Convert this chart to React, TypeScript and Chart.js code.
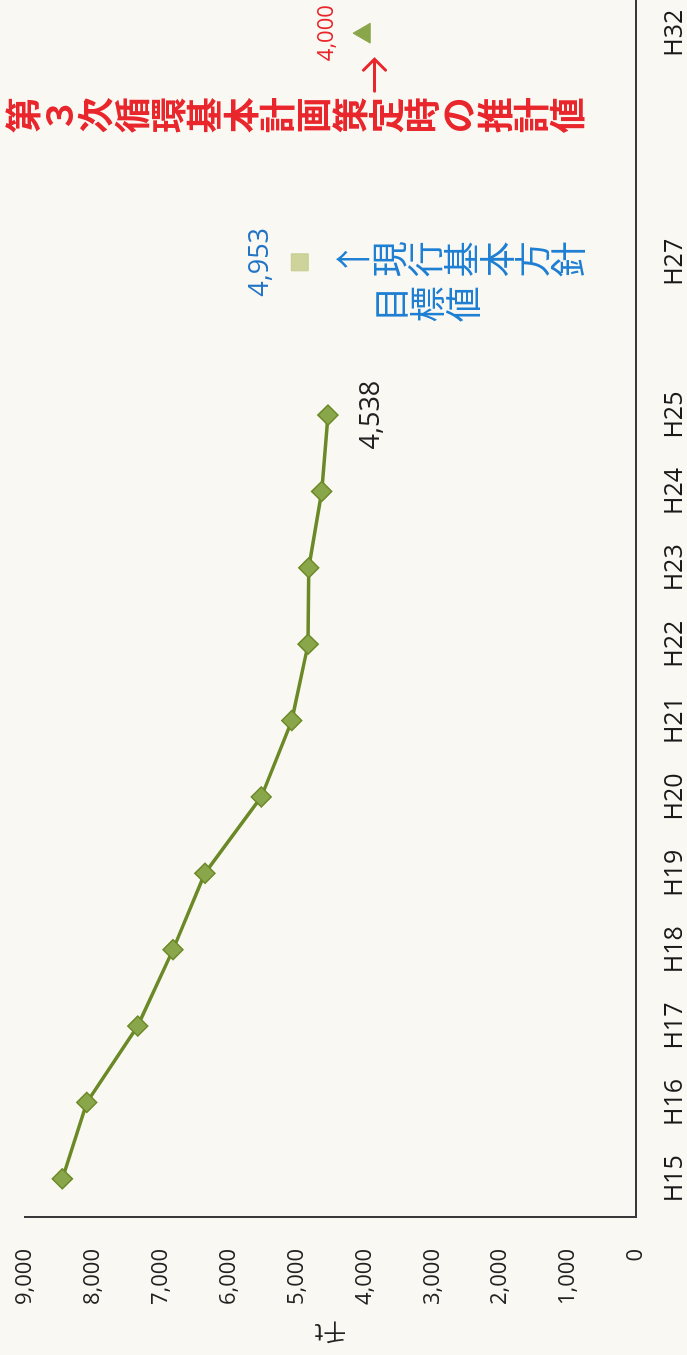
import React, { useEffect, useRef } from 'react';
import { Chart, registerables } from 'chart.js';

Chart.register(...registerables);

// ---- data ----
const categories = ['H15', 'H16', 'H17', 'H18', 'H19', 'H20', 'H21', 'H22', 'H23', 'H24', 'H25', '', 'H27', '', '', 'H32'];
const actualValues = [8450, 8090, 7340, 6820, 6350, 5520, 5070, 4830, 4820, 4630, 4538, null, null, null, null, null];
const targetValues = [null, null, null, null, null, null, null, null, null, null, null, null, 4953, null, null, null];
const estimateValues = [null, null, null, null, null, null, null, null, null, null, null, null, null, null, null, 4000];
const yMin = 0;
const yMax = 9000;
const yStep = 1000;
const unitTitle = '千t';
const redNote = '第３次循環基本計画策定時の推計値';
const blueNoteLine1 = '↑現行基本方針';
const blueNoteLine2 = '目標値';

const W = 1380;
const H = 687;

const fmt = (n: number) => n.toLocaleString('en-US');

const annotationPlugin = {
  id: 'annotations',
  afterDatasetsDraw(chart: any) {
    const ctx = chart.ctx;
    const xs = chart.scales.x;
    const ys = chart.scales.y;
    ctx.save();
    ctx.textAlign = 'center';
    ctx.textBaseline = 'middle';

    // data labels
    const lastIdx = actualValues.reduce((a: number, v, i) => (v !== null ? i : a), 0);
    const p0 = chart.getDatasetMeta(0).data[lastIdx];
    ctx.font = '27px "Open Sans"';
    ctx.fillStyle = '#222';
    ctx.fillText(fmt(actualValues[lastIdx] as number), p0.x, p0.y + 43);

    const tIdx = targetValues.findIndex((v) => v !== null);
    const p1 = chart.getDatasetMeta(1).data[tIdx];
    ctx.fillStyle = '#2474c6';
    ctx.fillText(fmt(targetValues[tIdx] as number), p1.x, p1.y - 39);

    const eIdx = estimateValues.findIndex((v) => v !== null);
    const p2 = chart.getDatasetMeta(2).data[eIdx];
    ctx.font = '22px "Open Sans"';
    ctx.fillStyle = '#e8262b';
    ctx.fillText(fmt(estimateValues[eIdx] as number), p2.x, p2.y - 38);

    // red arrow pointing to the estimate
    ctx.strokeStyle = '#e8262b';
    ctx.lineWidth = 3;
    ctx.lineCap = 'round';
    const ay = p2.y + 10;
    const ax1 = p2.x - 58;
    const ax2 = p2.x - 26;
    ctx.beginPath();
    ctx.moveTo(ax1, ay);
    ctx.lineTo(ax2, ay);
    ctx.moveTo(ax2 - 11, ay - 11);
    ctx.lineTo(ax2, ay);
    ctx.lineTo(ax2 - 11, ay + 11);
    ctx.stroke();

    // red vertical note
    const redX = xs.getPixelForValue(eIdx) - 82;
    const top = ys.getPixelForValue(yMax) - 20;
    ctx.font = 'bold 36px "Noto Sans CJK JP"';
    ctx.fillStyle = '#e8262b';
    const step = 36.3;
    for (let i = 0; i < redNote.length; i++) {
      ctx.fillText(redNote[i], redX, top + step * i + step / 2);
    }

    // blue vertical note
    ctx.font = '36px "Noto Sans CJK JP"';
    ctx.fillStyle = '#1e7fd3';
    const bx1 = p1.x + 3;
    const bTop = p1.y + 36;
    const bStep = 35.8;
    for (let i = 0; i < blueNoteLine1.length; i++) {
      ctx.fillText(blueNoteLine1[i], bx1, bTop + bStep * i + bStep / 2);
    }
    const bx2 = bx1 - 45;
    for (let i = 0; i < blueNoteLine2.length; i++) {
      ctx.fillText(blueNoteLine2[i], bx2, bTop + bStep * (i + 1) + bStep / 2 + 2);
    }

    // unit title (rotated)
    ctx.save();
    ctx.translate(22, (ys.top + ys.bottom) / 2);
    ctx.rotate(-Math.PI / 2);
    ctx.font = '23px "Noto Sans CJK JP"';
    ctx.fillStyle = '#222';
    ctx.fillText(unitTitle, 0, 0);
    ctx.restore();

    ctx.restore();
  },
};

export default function App() {
  const ref = useRef<HTMLCanvasElement | null>(null);

  useEffect(() => {
    if (!ref.current) return;
    const chart = new Chart(ref.current, {
      type: 'line',
      data: {
        labels: categories,
        datasets: [
          {
            data: actualValues,
            borderColor: '#6b8a27',
            borderWidth: 3.5,
            pointStyle: 'rectRot',
            pointRadius: 10,
            pointBackgroundColor: '#8aa64a',
            pointBorderColor: '#6b8a27',
            pointBorderWidth: 1.5,
            tension: 0,
            spanGaps: false,
          },
          {
            data: targetValues,
            showLine: false,
            pointStyle: 'rect',
            pointRadius: 12,
            pointBackgroundColor: '#cdd39a',
            pointBorderColor: '#c5cc8e',
            pointBorderWidth: 1,
          },
          {
            data: estimateValues,
            showLine: false,
            pointStyle: 'triangle',
            pointRadius: 11.5,
            pointBackgroundColor: '#8aa64a',
            pointBorderColor: '#8aa64a',
            pointBorderWidth: 1,
          },
        ],
      },
      options: {
        animation: false,
        responsive: false,
        devicePixelRatio: 1,
        layout: { padding: { left: 0, top: 25, right: 20, bottom: 0 } },
        plugins: { legend: { display: false }, tooltip: { enabled: false } },
        scales: {
          x: {
            type: 'category',
            offset: true,
            grid: { display: false, drawTicks: false },
            border: { display: true, color: '#3a3a3a', width: 2 },
            ticks: {
              autoSkip: false,
              maxRotation: 0,
              minRotation: 0,
              padding: 24,
              color: '#1a1a1a',
              font: { family: '"Open Sans"', size: 25 },
            },
            afterFit: (s: any) => {
              s.height = 51;
              s.paddingLeft = 0;
              s.paddingRight = 0;
            },
          },
          y: {
            min: yMin,
            max: yMax,
            grid: { display: false, drawTicks: false },
            border: { display: true, color: '#3a3a3a', width: 2 },
            ticks: {
              stepSize: yStep,
              padding: 32,
              color: '#222',
              font: { family: '"Open Sans"', size: 22 },
              callback: (v: any) => fmt(Number(v)),
            },
            afterFit: (s: any) => {
              s.width = 138;
              s.paddingTop = 0;
              s.paddingBottom = 0;
            },
          },
        },
      },
      plugins: [annotationPlugin],
    });
    return () => chart.destroy();
  }, []);

  return (
    <div
      style={{
        position: 'absolute',
        left: 0,
        top: 0,
        width: 687,
        height: 1355,
        overflow: 'hidden',
        background: '#faf8f3',
      }}
    >
      <div
        style={{
          position: 'absolute',
          left: 0,
          top: 0,
          width: W,
          height: H,
          transformOrigin: '0 0',
          transform: 'translate(0px, 1355px) rotate(-90deg)',
        }}
      >
        <canvas ref={ref} width={W} height={H} style={{ display: 'block', width: W, height: H }} />
      </div>
    </div>
  );
}
